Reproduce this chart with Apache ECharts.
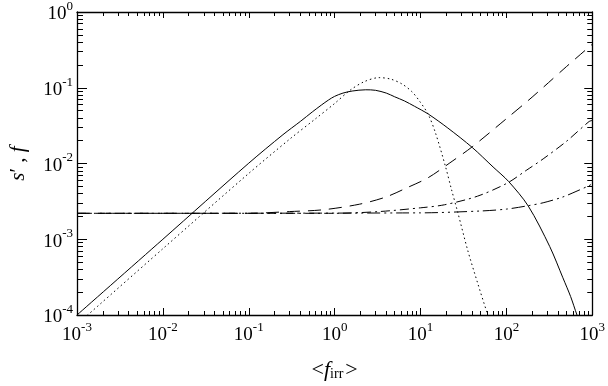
<!DOCTYPE html>
<html><head><meta charset="utf-8">
<script src="https://cdn.jsdelivr.net/npm/echarts@6/dist/echarts.min.js"></script>
<style>html,body{margin:0;padding:0;background:#fff}#c{width:608px;height:386px}</style>
</head><body><div id="c"></div>
<script>
// ---- data ----
const xMajorTicks = [1e-3, 1e-2, 1e-1, 1, 10, 100, 1000];
const yMajorTicks = [1e-4, 1e-3, 1e-2, 1e-1, 1];

const solidX = [0.001, 0.01, 0.1, 0.25, 0.4, 0.55, 0.7, 0.85, 1.0, 1.25, 1.6, 2.3, 3.0, 4.0, 5.0, 6.5, 8.5, 12.3, 20.8, 40, 70, 106, 180, 320, 455, 560, 664, 720];
const solidY = [1e-4, 1e-3, 0.0101, 0.024, 0.036, 0.048, 0.059, 0.069, 0.077, 0.085, 0.0905, 0.094, 0.0925, 0.085, 0.076, 0.067, 0.057, 0.045, 0.0294, 0.0163, 0.009, 0.0058, 0.00274, 8e-4, 3.1e-4, 1.75e-4, 1e-4, 8e-5];

const dottedX = [0.001, 0.01, 0.1, 0.3, 0.6, 1.0, 1.5, 2.2, 3.3, 4.5, 6.1, 8.0, 9.8, 12.3, 15, 19.5, 23, 27.2, 35.4, 46, 60, 66];
const dottedY = [7.5e-5, 7.5e-4, 0.0074, 0.021, 0.039, 0.062, 0.092, 0.120, 0.136, 0.130, 0.112, 0.088, 0.066, 0.0445, 0.025, 0.0092, 0.0045, 0.00225, 7.2e-4, 2.7e-4, 1.05e-4, 8e-5];

const dashedX = [0.001, 0.1, 0.3, 0.735, 1.94, 3.92, 7, 12.3, 22, 40, 100, 180, 268, 500, 1000];
const dashedY = [0.0022, 0.0022, 0.00232, 0.00245, 0.0029, 0.0036, 0.0048, 0.0065, 0.0102, 0.0166, 0.039, 0.068, 0.101, 0.19, 0.375];

const dashDotX = [0.001, 1, 3.3, 10, 19, 46, 102, 170, 268, 500, 918, 1000];
const dashDotY = [0.0022, 0.0022, 0.00232, 0.0026, 0.00285, 0.0037, 0.0055, 0.0081, 0.0115, 0.0196, 0.0358, 0.037];

const dashDotDotX = [0.001, 10, 50, 100, 172, 268, 450, 646, 918, 1000];
const dashDotDotY = [0.0022, 0.00223, 0.00236, 0.0025, 0.00275, 0.00303, 0.0036, 0.00427, 0.0051, 0.0054];

// ---- helpers ----
function minorTicks(lo, hi) {
  const out = [];
  for (let d = lo; d < hi; d++) for (let k = 2; k <= 9; k++) out.push(+(k * Math.pow(10, d)).toPrecision(6));
  return out;
}
const xMinorTicks = minorTicks(-3, 3);
const yMinorTicks = minorTicks(-4, 0);
const pairs = (xs, ys) => xs.map((x, i) => [x, ys[i]]);

const FONT = 'Liberation Serif';
const labelRich = {
  b: { fontFamily: FONT, fontSize: 19, color: '#000', padding: [5, 0, 0, 0], verticalAlign: 'bottom' },
  s: { fontFamily: FONT, fontSize: 13, color: '#000', verticalAlign: 'top' }
};
const fmt = v => '{b|10}{s|' + Math.round(Math.log10(v)) + '}';

function xAx(pos, ticks, len, showLine, labels, extra) {
  return Object.assign({
    type: 'log', logBase: 10, min: 1e-3, max: 1e3, position: pos, gridIndex: 0,
    axisLine: { show: showLine, onZero: false, lineStyle: { color: '#000', width: 1.3 } },
    axisTick: { show: true, inside: true, length: len, customValues: ticks, lineStyle: { color: '#000', width: 1 } },
    axisLabel: labels ? { show: true, customValues: xMajorTicks, formatter: fmt, rich: labelRich, margin: 6 } : { show: false },
    splitLine: { show: false }
  }, extra || {});
}
function yAx(pos, ticks, len, showLine, labels, extra) {
  return Object.assign({
    type: 'log', logBase: 10, min: 1e-4, max: 1, position: pos, gridIndex: 0,
    axisLine: { show: showLine, onZero: false, lineStyle: { color: '#000', width: 1.3 } },
    axisTick: { show: true, inside: true, length: len, customValues: ticks, lineStyle: { color: '#000', width: 1 } },
    axisLabel: labels ? { show: true, customValues: yMajorTicks, formatter: fmt, rich: labelRich, margin: 4 } : { show: false },
    splitLine: { show: false }
  }, extra || {});
}

const line = (name, xs, ys, dash) => ({
  name, type: 'line', xAxisIndex: 0, yAxisIndex: 0,
  data: pairs(xs, ys), showSymbol: false, smooth: 0.3,
  lineStyle: { color: '#000', width: 1, type: dash }
});

const chart = echarts.init(document.getElementById('c'), null, { renderer: 'canvas' });
chart.setOption({
  animation: false,
  backgroundColor: '#fff',
  grid: { left: 73, right: 12, top: 9, bottom: 66, containLabel: false },
  xAxis: [
    xAx('bottom', xMajorTicks, 7, true, true, {
      name: '{l|<}{i|f}{sub|irr}{l|>}', nameLocation: 'middle', nameGap: 44,
      nameTextStyle: { rich: {
        l: { fontFamily: FONT, fontSize: 22, color: '#000' },
        i: { fontFamily: FONT, fontSize: 22, fontStyle: 'italic', color: '#000' },
        sub: { fontFamily: FONT, fontSize: 14, color: '#000', verticalAlign: 'bottom', padding: [0, 2, 0, 0] }
      } }
    }),
    xAx('bottom', xMinorTicks, 4, false, false),
    xAx('top', xMajorTicks, 6, true, false),
    xAx('top', xMinorTicks, 4, false, false)
  ],
  yAxis: [
    yAx('left', yMajorTicks, 10, true, true, {
      name: '{i|s}{l|\u2032 , }{i|f}', nameLocation: 'middle', nameGap: 48, nameRotate: 90,
      nameTextStyle: { rich: {
        l: { fontFamily: FONT, fontSize: 21, color: '#000' },
        i: { fontFamily: FONT, fontSize: 21, fontStyle: 'italic', color: '#000' }
      } }
    }),
    yAx('left', yMinorTicks, 6, false, false),
    yAx('right', yMajorTicks, 8, true, false),
    yAx('right', yMinorTicks, 5, false, false)
  ],
  series: [
    line('solid', solidX, solidY, 'solid'),
    line('dotted', dottedX, dottedY, [1.5, 3]),
    line('dashed', dashedX, dashedY, [13, 8]),
    line('dashDot', dashDotX, dashDotY, [9, 4, 2, 4]),
    line('dashDotDot', dashDotDotX, dashDotDotY, [13, 4, 2, 4, 2, 4])
  ]
});
</script>
</body></html>
